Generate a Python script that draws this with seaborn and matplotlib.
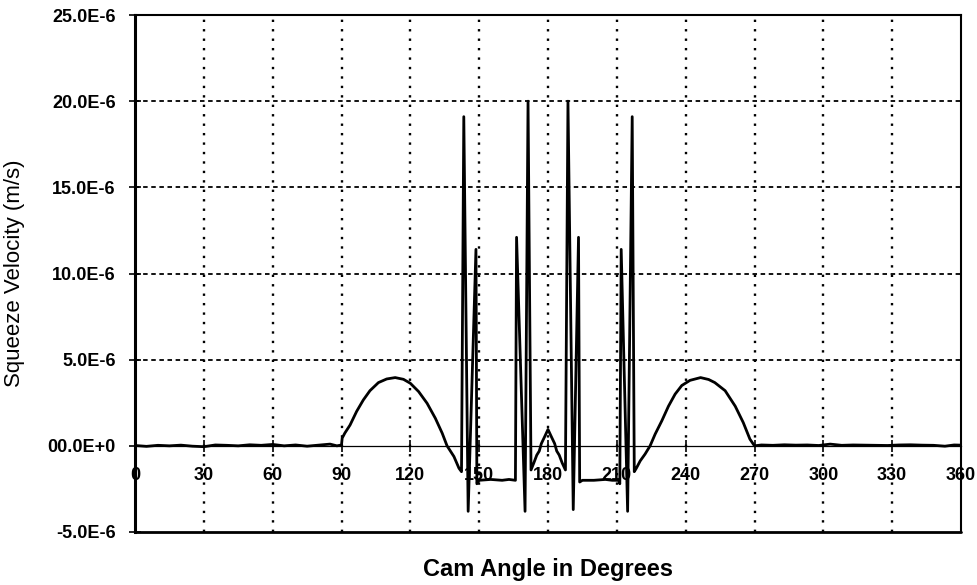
import matplotlib
matplotlib.use("Agg")
import matplotlib.pyplot as plt
import seaborn as sns
import pandas as pd

# ---- data (velocity in units of 1E-6 m/s) ----
cam_angle = [
    0, 5, 10, 15, 20, 25, 30, 35, 40, 45, 50, 55, 60, 65, 70, 75, 80, 85, 88, 90,
    90.3, 91.5, 93.7, 96.6, 99.5, 102.4, 106.1, 109.7, 113.4, 117.0, 120.0, 123.6,
    127.3, 130.9, 133.9, 136.0, 139.0, 141.2, 142.3,
    143.3, 145.2, 148.6, 149.0, 150.0, 155.0, 160.0, 163.0, 165.8,
    166.3, 170.0, 171.3, 172.6, 173.8, 175.1, 176.2, 177.1, 178.5, 180.0,
    181.5, 182.9, 183.8, 184.9, 186.2, 187.6,
    188.7, 191.0, 193.3, 193.8, 195.0, 200.0, 205.0, 208.0, 210.8, 211.3,
    211.9, 214.7, 216.7, 217.6, 218.5,
    220.2, 222.3, 224.5, 226.7, 229.6, 232.5, 235.4, 238.3, 241.9, 246.5,
    250.0, 252.7, 257.2, 261.6, 265.1, 268.0, 270.0,
    273, 278, 283, 288, 293, 298, 303, 308, 313, 318, 323, 328, 333, 338,
    343, 348, 353, 357, 360,
]
velocity_um = [
    0.02, -0.03, 0.03, 0.0, 0.04, -0.02, -0.05, 0.05, 0.03, 0.0, 0.06, 0.03, 0.08, 0.0,
    0.05, -0.02, 0.04, 0.1, 0.0, 0.05,
    0.45, 0.75, 1.2, 2.0, 2.66, 3.2, 3.67, 3.88, 3.96, 3.86, 3.63, 3.15,
    2.47, 1.6, 0.73, 0.0, -0.62, -1.3, -1.5,
    19.1, -3.8, 11.4, -2.2, -2.0, -1.95, -2.0, -1.95, -2.0,
    12.1, -3.8, 20.0, -1.4, -1.0, -0.54, -0.3, 0.13, 0.52, 0.95,
    0.52, 0.13, -0.3, -0.54, -1.0, -1.4,
    20.0, -3.7, 12.1, -2.1, -2.0, -2.0, -1.95, -2.0, -2.0, -2.2,
    11.4, -3.8, 19.1, -1.5, -1.3,
    -0.87, -0.48, 0.0, 0.68, 1.45, 2.3, 3.0, 3.5, 3.8, 3.96,
    3.85, 3.67, 3.2, 2.3, 1.35, 0.39, 0.0,
    0.05, 0.03, 0.06, 0.04, 0.05, 0.02, 0.1, 0.03, 0.05, 0.04, 0.03, 0.02, 0.05, 0.06,
    0.04, 0.03, -0.02, 0.05, 0.04,
]
x_ticks = [0, 30, 60, 90, 120, 150, 180, 210, 240, 270, 300, 330, 360]
y_ticks = [-5, 0, 5, 10, 15, 20, 25]
y_tick_labels = ["-5.0E-6", "00.0E+0", "5.0E-6", "10.0E-6", "15.0E-6", "20.0E-6", "25.0E-6"]
h_grid = [5, 10, 15, 20]

df = pd.DataFrame({"angle": cam_angle, "velocity": velocity_um})

sns.set_theme(style="white")
plt.rcParams["font.family"] = ["Liberation Sans", "DejaVu Sans"]

fig = plt.figure(figsize=(9.77, 5.85), dpi=100)
ax = fig.add_axes([135 / 977, 1 - 532 / 585, 826 / 977, 517 / 585])

sns.lineplot(data=df, x="angle", y="velocity", color="black", linewidth=2.0,
             sort=False, estimator=None, ax=ax, zorder=5)

ax.set_xlim(0, 360)
ax.set_ylim(-5, 25)
ax.set_xticks(x_ticks)
ax.set_xticklabels([str(t) for t in x_ticks])
ax.set_yticks(y_ticks)
ax.set_yticklabels(y_tick_labels)

# grid
ax.grid(False)
for xv in x_ticks[1:-1]:
    ax.axvline(xv, color="black", linewidth=1.7, linestyle=(0, (1, 3)), zorder=1)
for yv in h_grid:
    ax.axhline(yv, color="black", linewidth=1.3, linestyle=(0, (2.5, 2)), zorder=1)

# spines
ax.spines["bottom"].set_position(("data", 0))
ax.spines["bottom"].set_linewidth(0.9)
ax.spines["bottom"].set_color("black")
ax.spines["left"].set_linewidth(2.2)
ax.spines["left"].set_color("black")
ax.spines["top"].set_linewidth(1.5)
ax.spines["top"].set_color("black")
ax.spines["right"].set_linewidth(1.5)
ax.spines["right"].set_color("black")
ax.axhline(-5, color="black", linewidth=2.0, clip_on=False, zorder=6)

ax.tick_params(axis="y", direction="inout", length=8, width=1.2, pad=10,
               labelsize=13, colors="black", left=True)
ax.tick_params(axis="x", direction="inout", length=8, width=1.2, pad=11,
               labelsize=13, colors="black", bottom=True)
for lab in ax.get_xticklabels() + ax.get_yticklabels():
    lab.set_fontweight("bold")

ax.set_xlabel("Cam Angle in Degrees", fontsize=17, fontweight="bold", color="black")
ax.xaxis.set_label_coords(0.5, -0.05)
ax.set_ylabel("Squeeze Velocity (m/s)", fontsize=16, color="black")
ax.yaxis.set_label_coords(-0.133, 0.5)

fig.savefig("out.png", dpi=100, facecolor="white")
